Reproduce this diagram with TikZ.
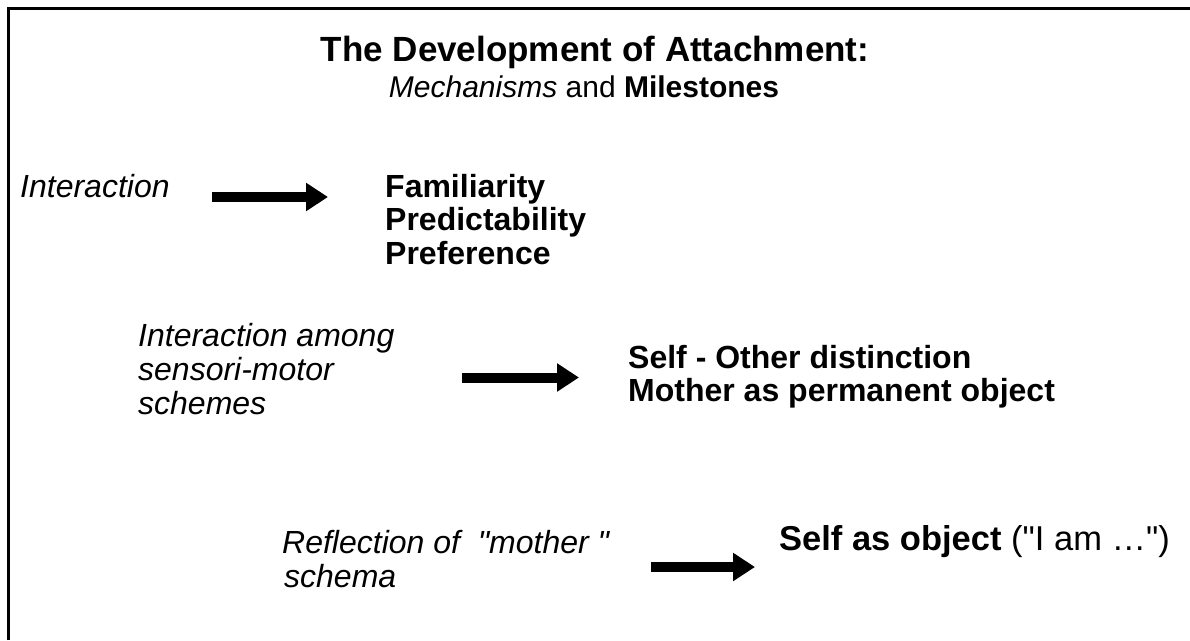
\documentclass[tikz,border=0pt]{standalone}
\usepackage{fontspec}
\setmainfont{Liberation Sans}
\newfontfamily\qf{Liberation Sans}
\usetikzlibrary{arrows.meta}
\begin{document}
\begin{tikzpicture}[x=1pt,y=-1pt,
  txt/.style={inner sep=0pt, anchor=base west},
  mech/.style={txt, font=\qf\fontsize{32}{34}\selectfont\itshape},
  mile/.style={txt, font=\qf\fontsize{32}{34}\selectfont\bfseries},
  bigarrow/.style={line width=10pt, -{Triangle[length=22pt,width=27pt]}},
  frame/.style={line width=3pt}
]
\useasboundingbox (0,0) rectangle (1190,640);
\draw[frame] (8.5,640) -- (8.5,8.5) -- (1190,8.5);

\node[inner sep=0pt, anchor=base, font=\qf\fontsize{35}{40}\selectfont\bfseries] (title) at (595,61) {The Development of Attachment:};
\node[inner sep=0pt, anchor=base, font=\qf\fontsize{30}{34}\selectfont] (sub) at (584,97) {\textit{Mechanisms} and \textbf{Milestones}};

% row 1
\node[mech] (m1) at (20,197) {Interaction};
\node[mile] (f1) at (385,197) {Familiarity};
\node[mile] (f2) at (385,230) {Predictability};
\node[mile] (f3) at (385,264) {Preference};
\coordinate (a1s) at (212,197);
\coordinate (a1e) at (328,197);
\draw[bigarrow] (a1s) -- (a1e);

% row 2
\node[mech] (m2a) at (138,346) {Interaction among};
\node[mech] (m2b) at (138,380) {sensori-motor};
\node[mech] (m2c) at (138,414) {schemes};
\node[mile] (s1) at (628,368) {Self - Other distinction};
\node[mile] (s2) at (628,401) {Mother as permanent object};
\coordinate (a2s) at (462,377.5);
\coordinate (a2e) at (579,377.5);
\draw[bigarrow] (a2s) -- (a2e);

% row 3
\node[mech] (m3a) at (282,553) {Reflection of\ \ "mother\ "};
\node[mech] (m3b) at (284,587) {schema};
\node[txt, font=\qf\fontsize{34.5}{36}\selectfont] (o3) at (779,550) {\textbf{Self as object} ("I am …")};
\coordinate (a3s) at (651,567);
\coordinate (a3e) at (755,567);
\draw[bigarrow] (a3s) -- (a3e);
\end{tikzpicture}
\end{document}
